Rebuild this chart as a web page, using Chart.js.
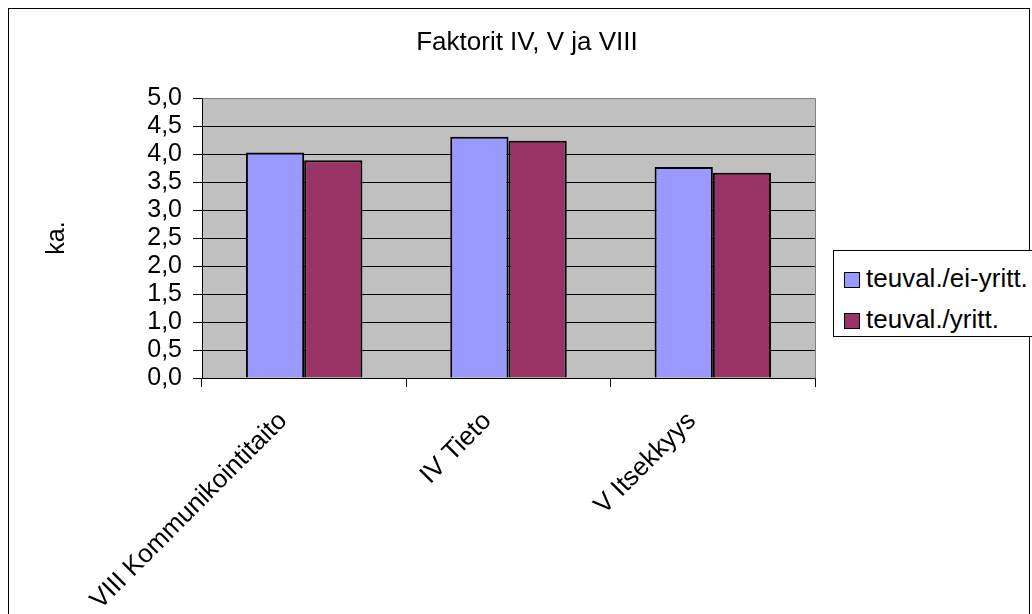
<!DOCTYPE html>
<html lang="fi">
<head>
<meta charset="utf-8">
<title>Faktorit IV, V ja VIII</title>
<script src="https://cdn.jsdelivr.net/npm/chart.js@4.4.1/dist/chart.umd.min.js"></script>
<style>
  body { margin: 0; background: #fff; font-family: "Liberation Sans", Arial, sans-serif; }
  #wrap { position: relative; width: 1032px; height: 614px; overflow: hidden; }
  #frame { position: absolute; left: 8px; top: 8px; width: 1022px; height: 640px; border: 1px solid #000; box-sizing: border-box; }
  #chartCanvas { position: absolute; left: 0; top: 0; }
  #legend { position: absolute; left: 833px; top: 250px; width: 220px; height: 87px; border: 1px solid #000; box-sizing: border-box; background: #fff; }
  .legend-box { position: absolute; left: 10px; width: 16px; height: 16px; border: 1px solid #000; box-sizing: border-box; }
  .legend-text { position: absolute; left: 32px; font-size: 26px; line-height: 26px; color: #000; white-space: nowrap; }
</style>
</head>
<body>
<div id="wrap">
  <div id="frame"></div>
  <canvas id="chartCanvas" width="1032" height="614"></canvas>
  <div id="legend"></div>
</div>
<script>
// Data luettu kuvasta
const categories = ["VIII Kommunikointitaito", "IV Tieto", "V Itsekkyys"];
const seriesNames = ["teuval./ei-yritt.", "teuval./yritt."];
const eiYrittValues = [4.03, 4.31, 3.77];
const yrittValues = [3.89, 4.24, 3.67];
const yTicks = [0, 0.5, 1, 1.5, 2, 2.5, 3, 3.5, 4, 4.5, 5];
const seriesColors = ["#9999FF", "#993366"];

const fontFamily = '"Liberation Sans", Arial, sans-serif';
Chart.defaults.font.family = fontFamily;
Chart.defaults.color = "#000";

// Harmaa tausta piirtoalueelle + harmaat ylä- ja oikea reuna
const plotBackground = {
  id: "plotBackground",
  beforeDraw(chart) {
    const { ctx, chartArea } = chart;
    ctx.save();
    ctx.fillStyle = "#C0C0C0";
    ctx.fillRect(chartArea.left, chartArea.top, chartArea.right - chartArea.left, chartArea.bottom - chartArea.top);
    ctx.restore();
  },
  afterDraw(chart) {
    const { ctx, chartArea } = chart;
    ctx.save();
    ctx.strokeStyle = "#808080";
    ctx.lineWidth = 1;
    ctx.beginPath();
    ctx.moveTo(Math.round(chartArea.left) + 0.5, Math.round(chartArea.top) + 0.5);
    ctx.lineTo(Math.round(chartArea.right) + 0.5, Math.round(chartArea.top) + 0.5);
    ctx.lineTo(Math.round(chartArea.right) + 0.5, Math.round(chartArea.bottom) + 0.5);
    ctx.stroke();
    ctx.restore();
  }
};

function formatComma(value) {
  return Number(value).toFixed(1).replace(".", ",");
}

const ctx = document.getElementById("chartCanvas").getContext("2d");
const chart = new Chart(ctx, {
  type: "bar",
  data: {
    labels: categories,
    datasets: [
      {
        label: seriesNames[0],
        data: eiYrittValues,
        backgroundColor: seriesColors[0],
        borderColor: "#000",
        borderWidth: 2
      },
      {
        label: seriesNames[1],
        data: yrittValues,
        backgroundColor: seriesColors[1],
        borderColor: "#000",
        borderWidth: 2
      }
    ]
  },
  options: {
    responsive: false,
    animation: false,
    events: [],
    datasets: {
      bar: { categoryPercentage: 0.57, barPercentage: 1.0 }
    },
    layout: { padding: { left: 22, right: 0, top: 0, bottom: 0 } },
    plugins: {
      legend: { display: false },
      tooltip: { enabled: false },
      title: {
        display: true,
        text: "Faktorit IV, V ja VIII",
        color: "#000",
        font: { size: 26, weight: "normal" },
        padding: { top: 27, bottom: 40 }
      }
    },
    scales: {
      x: {
        offset: true,
        grid: {
          display: true,
          offset: true,
          drawOnChartArea: false,
          drawTicks: true,
          tickLength: 9,
          color: "#000"
        },
        border: { display: true, color: "#000", width: 1 },
        ticks: {
          minRotation: 45,
          maxRotation: 45,
          autoSkip: false,
          padding: 19,
          labelOffset: -21,
          color: "#000",
          font: { size: 26 }
        },
        afterFit(scale) { scale.height = 236; }
      },
      y: {
        min: 0,
        max: 5,
        afterBuildTicks(scale) {
          scale.ticks = yTicks.map(v => ({ value: v }));
        },
        grid: {
          color: ctx => (ctx.tick && ctx.tick.value === 5 ? "#808080" : "#000"),
          tickColor: "#000",
          lineWidth: 1,
          drawTicks: true,
          tickLength: 9
        },
        border: { display: true, color: "#000", width: 1 },
        ticks: {
          autoSkip: false,
          padding: 11,
          color: "#000",
          font: { size: 25 },
          callback: value => formatComma(value)
        },
        title: {
          display: true,
          text: "ka.",
          color: "#000",
          font: { size: 25 },
          padding: { top: 20, bottom: 0 }
        },
        afterFit(scale) { scale.width = 180; }
      },
      // tyhjä akseli varaa tilan selitteelle oikealla
      yRight: {
        position: "right",
        display: true,
        grid: { display: false },
        border: { display: false },
        ticks: { display: false },
        afterFit(scale) { scale.width = 217; }
      }
    }
  },
  plugins: [plotBackground]
});

// Selite HTML:nä sarjojen nimistä
const legendEl = document.getElementById("legend");
const legendRows = [21, 62];
seriesNames.forEach((name, i) => {
  const box = document.createElement("div");
  box.className = "legend-box";
  box.style.top = legendRows[i] + "px";
  box.style.background = seriesColors[i];
  const text = document.createElement("div");
  text.className = "legend-text";
  text.style.top = (legendRows[i] - 7) + "px";
  text.textContent = name;
  legendEl.appendChild(box);
  legendEl.appendChild(text);
});
</script>
</body>
</html>
